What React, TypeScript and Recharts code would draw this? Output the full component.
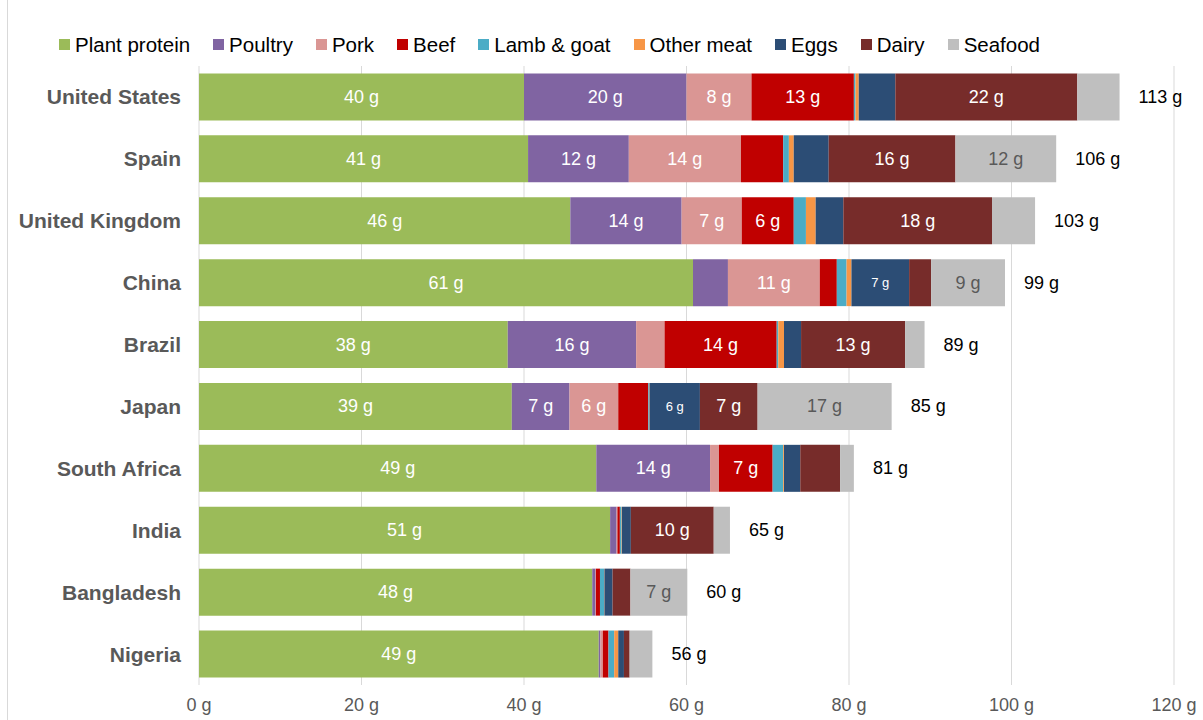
import React from 'react';
import { BarChart, Bar, XAxis, YAxis, CartesianGrid, LabelList } from 'recharts';

const countries = ['United States', 'Spain', 'United Kingdom', 'China', 'Brazil', 'Japan', 'South Africa', 'India', 'Bangladesh', 'Nigeria'];
const plant = [40, 40.5, 45.7, 60.8, 38, 38.5, 48.9, 50.6, 48.4, 49.2];
const poultry = [20, 12.4, 13.7, 4.3, 15.8, 7.1, 14, 0.8, 0.4, 0.2];
const pork = [8, 13.8, 7.4, 11.3, 3.5, 6, 1.1, 0.1, 0.05, 0.3];
const beef = [12.6, 5.2, 6.4, 2.1, 13.8, 3.7, 6.6, 0.3, 0.5, 0.7];
const lamb = [0.2, 0.7, 1.5, 1.2, 0.2, 0.1, 1.3, 0.2, 0.5, 0.7];
const otherMeat = [0.4, 0.6, 1.2, 0.6, 0.7, 0.05, 0.1, 0.05, 0.05, 0.5];
const eggs = [4.5, 4.3, 3.4, 7.1, 2.1, 6.2, 2, 1.1, 1, 0.7];
const dairy = [22.4, 15.6, 18.3, 2.7, 12.8, 7.1, 4.9, 10.2, 2.2, 0.7];
const seafood = [5.2, 12.4, 5.3, 9.1, 2.4, 16.5, 1.7, 2, 7, 2.8];
const totals = [113, 106, 103, 99, 89, 85, 81, 65, 60, 56];
const xTicks = [0, 20, 40, 60, 80, 100, 120];

const series = [
  { key: 'plant', name: 'Plant protein', color: '#9BBB59', values: plant },
  { key: 'poultry', name: 'Poultry', color: '#8064A2', values: poultry },
  { key: 'pork', name: 'Pork', color: '#DA9694', values: pork },
  { key: 'beef', name: 'Beef', color: '#C00000', values: beef },
  { key: 'lamb', name: 'Lamb & goat', color: '#4BACC6', values: lamb },
  { key: 'other', name: 'Other meat', color: '#F79646', values: otherMeat },
  { key: 'eggs', name: 'Eggs', color: '#2C4D75', values: eggs },
  { key: 'dairy', name: 'Dairy', color: '#772C2A', values: dairy },
  { key: 'seafood', name: 'Seafood', color: '#BFBFBF', values: seafood },
];

const data = countries.map((c, i) => {
  const row: Record<string, string | number> = { country: c, total: totals[i] };
  series.forEach(s => { row[s.key] = s.values[i]; });
  return row;
});

const FONT = '"Liberation Sans", Arial, sans-serif';

const inBarLabel = (color: string, size: number) => (props: any) => {
  const { x, y, width, height, value } = props;
  if (value == null || value < 5.5) return null;
  return (
    <text x={x + width / 2} y={y + height / 2} fill={color} fontSize={size} fontFamily={FONT}
      textAnchor="middle" dominantBaseline="central">
      {`${Math.round(value)} g`}
    </text>
  );
};

const totalLabel = (props: any) => {
  const { x, y, width, height, value } = props;
  return (
    <text x={x + width + 19} y={y + height / 2} fill="#000" fontSize={18} fontFamily={FONT}
      dominantBaseline="central">
      {`${value} g`}
    </text>
  );
};

const CountryTick = (props: any) => {
  const { y, payload } = props;
  return (
    <text x={181} y={y} fill="#595959" fontSize={21} fontWeight="bold" fontFamily={FONT}
      textAnchor="end" dominantBaseline="central">
      {payload.value}
    </text>
  );
};

export default function App() {
  return (
    <div style={{ position: 'absolute', left: 0, top: 0, width: 1203, height: 720, background: '#fff', fontFamily: FONT }}>
      <div style={{ position: 'absolute', left: 7, top: 0, width: 1, height: 720, background: '#D9D9D9' }} />
      <div style={{ position: 'absolute', left: 59, top: 33, display: 'flex', alignItems: 'center', fontSize: 20.5, lineHeight: '23px', color: '#000', whiteSpace: 'nowrap' }}>
        {series.map(s => (
          <div key={s.key} style={{ display: 'flex', alignItems: 'center', marginRight: 23 }}>
            <span style={{ display: 'inline-block', width: 11, height: 11, background: s.color, marginRight: 5 }} />
            <span>{s.name}</span>
          </div>
        ))}
      </div>
      <BarChart width={1203} height={720} data={data} layout="vertical"
        margin={{ top: 66, right: 29, bottom: 0, left: 0 }} barCategoryGap="12%">
        <CartesianGrid horizontal={false} stroke="#D9D9D9" />
        <XAxis type="number" domain={[0, 120]} ticks={xTicks} height={35} axisLine={false} tickLine={false}
          tickMargin={7} tick={{ fill: '#595959', fontSize: 18, fontFamily: FONT }} tickFormatter={(v: number) => `${v} g`} />
        <YAxis type="category" dataKey="country" width={199} axisLine={false} tickLine={false} tick={<CountryTick />} />
        {series.map(s => (
          <Bar key={s.key} dataKey={s.key} name={s.name} stackId="a" fill={s.color} isAnimationActive={false}>
            <LabelList dataKey={s.key}
              content={inBarLabel(s.key === 'seafood' ? '#595959' : '#fff', s.key === 'eggs' ? 13 : 18)} />
            {s.key === 'seafood' && <LabelList dataKey="total" content={totalLabel} />}
          </Bar>
        ))}
      </BarChart>
    </div>
  );
}
